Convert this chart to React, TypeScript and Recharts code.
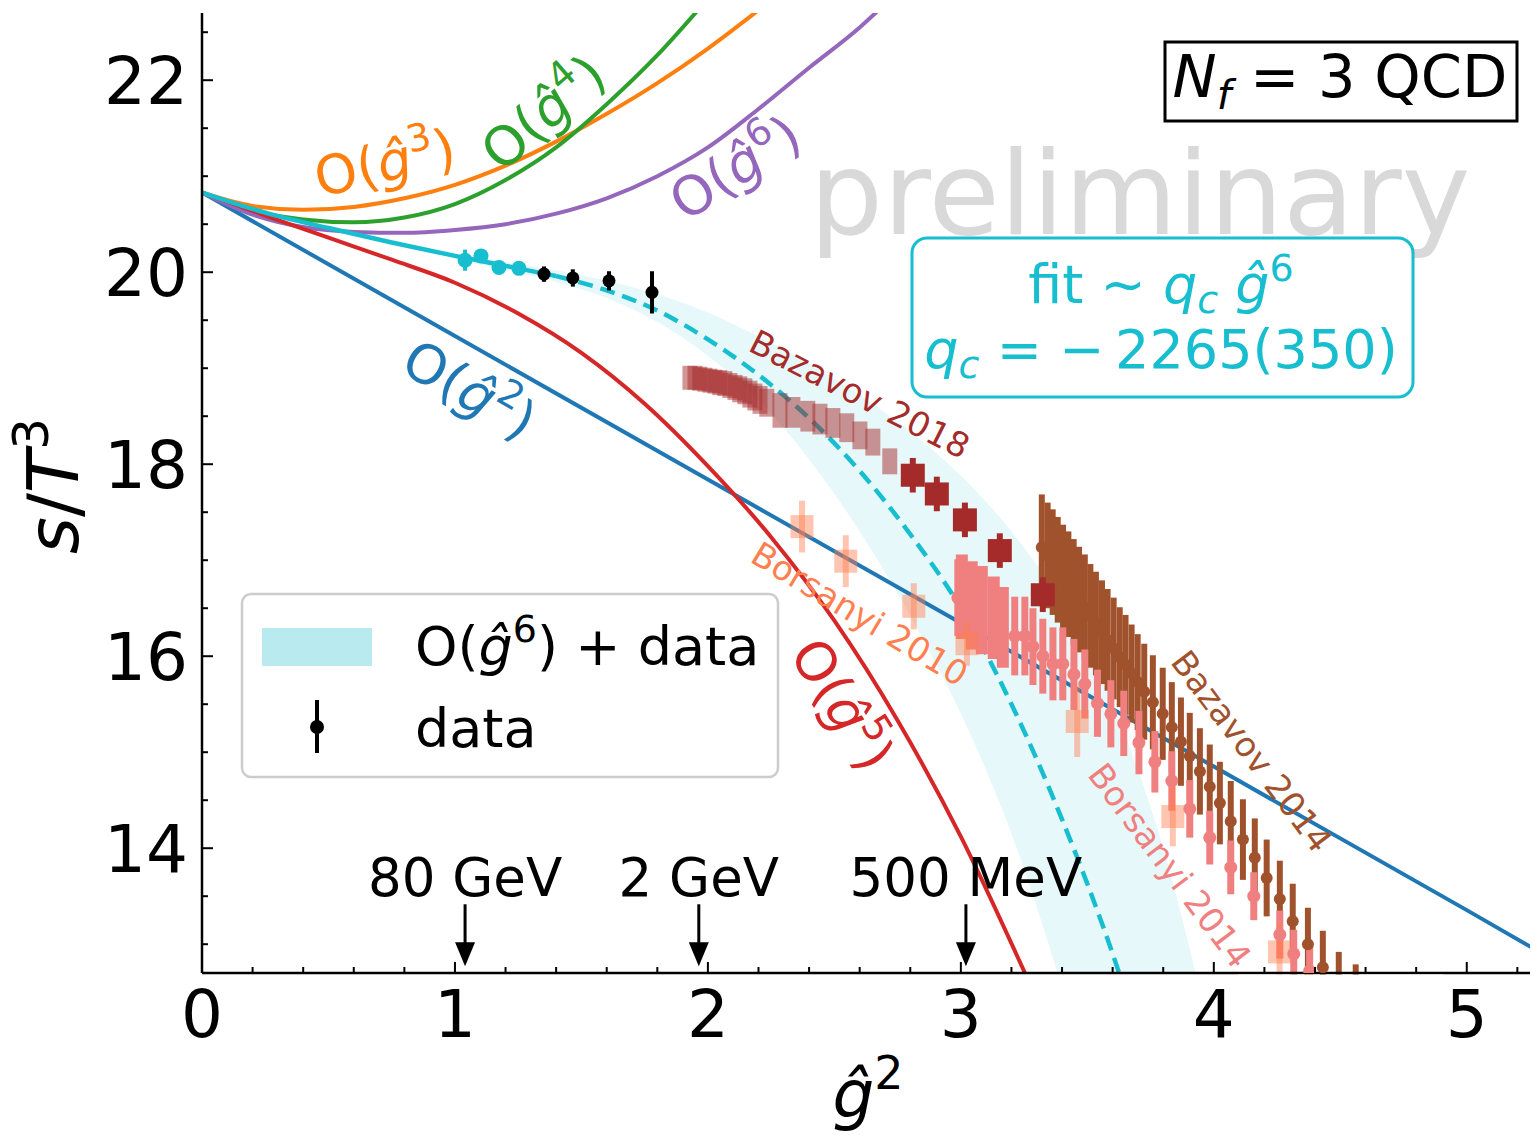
import React from 'react';
import { ComposedChart, Line, Area, Scatter, XAxis, YAxis, ErrorBar, ReferenceDot } from 'recharts';

const FONT = '"DejaVu Sans", "Noto Sans", sans-serif';
const COL = {
  blue: '#1f77b4', orange: '#ff7f0e', green: '#2ca02c', red: '#d62728', purple: '#9467bd', cyan: '#17becf',
  baz18: '#a52a2a', bors10: '#ff7f50', baz14: '#a0522d', bors14: '#f08080',
};

// ---------- ticks ----------
const xTicks = [0, 0.2, 0.4, 0.6, 0.8, 1, 1.2, 1.4, 1.6, 1.8, 2, 2.2, 2.4, 2.6, 2.8, 3, 3.2, 3.4, 3.6, 3.8, 4, 4.2, 4.4, 4.6, 4.8, 5, 5.2];
const yTicks = [13, 13.5, 14, 14.5, 15, 15.5, 16, 16.5, 17, 17.5, 18, 18.5, 19, 19.5, 20, 20.5, 21, 21.5, 22, 22.5];
const xMajor = [0, 1, 2, 3, 4, 5];
const yMajor = [14, 16, 18, 20, 22];

// ---------- perturbative curves ----------
const curveX = [0, 0.2, 0.4, 0.6, 0.8, 1, 1.2, 1.4, 1.6, 1.8, 2, 2.2, 2.4, 2.6, 2.8];
const orangeY = [20.83, 20.69, 20.65, 20.68, 20.77, 20.91, 21.11, 21.36, 21.65, 21.97, 22.33, 22.73];
const greenY = [20.83, 20.64, 20.55, 20.52, 20.57, 20.71, 20.96, 21.3, 21.75, 22.26, 22.85];
const purpleY = [20.83, 20.60, 20.47, 20.42, 20.41, 20.44, 20.50, 20.61, 20.77, 21.0, 21.3, 21.7, 22.13, 22.55, 23.05];

const blueX = [0, 1, 2, 3, 4, 5, 5.3];
const blueY = [20.83, 19.335, 17.84, 16.345, 14.85, 13.355, 12.9];

const redX = [0, 0.25, 0.5, 0.75, 1, 1.25, 1.5, 1.75, 2, 2.25, 2.5, 2.75, 3, 3.25, 3.4];
const redY = [20.83, 20.59, 20.36, 20.13, 19.89, 19.57, 19.16, 18.63, 17.98, 17.24, 16.37, 15.33, 14.12, 12.72, 11.85];

const cyanSolidX = [0, 0.25, 0.5, 0.75, 1, 1.25, 1.4];
const cyanSolidY = [20.83, 20.62, 20.46, 20.31, 20.17, 20.04, 19.96];
const cyanDashX = [1.4, 1.6, 1.8, 2, 2.2, 2.4, 2.6, 2.8, 3, 3.2, 3.4, 3.6, 3.7];
const cyanDashY = [19.96, 19.81, 19.6, 19.3, 18.93, 18.48, 17.93, 17.27, 16.5, 15.5, 14.3, 12.9, 12.1];

const bandX = [1, 1.2, 1.4, 1.6, 1.8, 2, 2.2, 2.4, 2.6, 2.8, 3, 3.2, 3.4, 3.6, 3.8, 4];
const bandLo = [20.14, 20.02, 19.9, 19.73, 19.48, 19.13, 18.67, 18.05, 17.3, 16.42, 15.4, 14.15, 12.55, 10.7, 8.6, 6.3];
const bandHi = [20.19, 20.11, 20.02, 19.91, 19.77, 19.58, 19.33, 19.05, 18.72, 18.34, 17.88, 17.3, 16.55, 15.5, 14.0, 11.9];

// ---------- lattice data: [x, y, err] ----------
const cyanData = [[1.04, 20.125, 0.11], [1.103, 20.17, 0.06], [1.174, 20.05, 0.03], [1.253, 20.04, 0.04]];
const blackData = [[1.352, 19.98, 0.08], [1.466, 19.94, 0.09], [1.609, 19.91, 0.1], [1.779, 19.79, 0.22]];

const baz18Faded = [
  [1.929, 18.90, 0.125], [1.949, 18.90, 0.125], [1.968, 18.89, 0.125], [1.988, 18.88, 0.125], [2.008, 18.87, 0.125],
  [2.028, 18.86, 0.125], [2.047, 18.85, 0.13], [2.067, 18.84, 0.13], [2.087, 18.82, 0.13], [2.107, 18.80, 0.13],
  [2.126, 18.78, 0.135], [2.146, 18.76, 0.135], [2.166, 18.73, 0.14], [2.186, 18.70, 0.14], [2.206, 18.67, 0.145],
  [2.233, 18.64, 0.145], [2.285, 18.56, 0.18], [2.336, 18.54, 0.16], [2.395, 18.50, 0.16], [2.443, 18.47, 0.16],
  [2.494, 18.43, 0.155], [2.549, 18.38, 0.15], [2.601, 18.30, 0.145], [2.652, 18.23, 0.14], [2.719, 18.03, 0.135],
];
// [x, y, boxHalf, errHalf]
const baz18Solid = [[2.81, 17.885, 0.12, 0.18], [2.905, 17.69, 0.12, 0.18], [3.016, 17.42, 0.12, 0.18], [3.154, 17.10, 0.12, 0.18], [3.324, 16.64, 0.12, 0.18]];
const bors10 = [[2.372, 17.35, 0.12, 0.27], [2.545, 16.99, 0.12, 0.27], [2.814, 16.52, 0.12, 0.24], [3.024, 16.13, 0.12, 0.23], [3.46, 15.32, 0.12, 0.37], [3.838, 14.33, 0.12, 0.31], [4.26, 12.92, 0.12, 0.3]];
const bors14Wide = [[3.004, 16.62, 0.44], [3.043, 16.53, 0.46], [3.083, 16.48, 0.46], [3.13, 16.40, 0.43], [3.166, 16.30, 0.42]];
const bors14 = [
  [2.988, 16.61, 0.4], [3.213, 16.21, 0.41], [3.253, 16.21, 0.41], [3.285, 16.10, 0.40], [3.324, 16.0, 0.39], [3.364, 15.92, 0.38],
  [3.403, 15.92, 0.38], [3.447, 15.81, 0.37], [3.49, 15.71, 0.36], [3.54, 15.51, 0.35], [3.593, 15.40, 0.35],
  [3.644, 15.30, 0.34], [3.704, 15.10, 0.33], [3.767, 14.90, 0.32], [3.834, 14.70, 0.31], [3.905, 14.41, 0.30],
  [3.984, 14.11, 0.28], [4.067, 13.80, 0.28], [4.158, 13.50, 0.25], [4.261, 13.10, 0.25], [4.316, 12.90, 0.25], [4.379, 12.72, 0.25],
];
const baz14 = [
  [3.320, 17.135, 0.55], [3.343, 17.05, 0.55], [3.363, 16.98, 0.55], [3.383, 16.90, 0.55], [3.404, 16.82, 0.55],
  [3.425, 16.75, 0.55], [3.446, 16.67, 0.55], [3.467, 16.59, 0.55], [3.490, 16.51, 0.55], [3.512, 16.42, 0.54],
  [3.534, 16.34, 0.54], [3.558, 16.25, 0.54], [3.580, 16.17, 0.53], [3.604, 16.08, 0.53], [3.628, 15.99, 0.52],
  [3.651, 15.91, 0.52], [3.675, 15.82, 0.51], [3.699, 15.73, 0.5], [3.725, 15.63, 0.5], [3.759, 15.52, 0.49],
  [3.798, 15.40, 0.48], [3.834, 15.26, 0.47], [3.870, 15.11, 0.46], [3.905, 14.96, 0.45], [3.945, 14.80, 0.45],
  [3.984, 14.64, 0.44], [4.024, 14.47, 0.43], [4.067, 14.28, 0.42], [4.115, 14.09, 0.42], [4.162, 13.90, 0.41],
  [4.209, 13.69, 0.40], [4.261, 13.47, 0.40], [4.312, 13.24, 0.39], [4.372, 13.0, 0.38], [4.431, 12.76, 0.38],
  [4.494, 12.55, 0.37], [4.561, 12.42, 0.37],
];

// ---------- annotations ----------
const arrowMarks = [
  { x: 1.04, y: 12.77, label: '80 GeV' },
  { x: 1.964, y: 12.77, label: '2 GeV' },
  { x: 3.02, y: 12.77, label: '500 MeV' },
];
const orderLabels = [
  { x: 0.723, y: 21.146, power: '3', angle: -13, color: COL.orange },
  { x: 1.348, y: 21.667, power: '4', angle: -41, color: COL.green },
  { x: 2.107, y: 21.094, power: '6', angle: -33, color: COL.purple },
  { x: 1.059, y: 18.78, power: '2', angle: 30, color: COL.blue },
  { x: 2.534, y: 15.5, power: '5', angle: 58, color: COL.red },
];
const setLabels = [
  { x: 2.60, y: 18.73, text: 'Bazavov 2018', angle: 27, color: COL.baz18 },
  { x: 2.60, y: 16.44, text: 'Borsanyi 2010', angle: 31, color: COL.bors10 },
  { x: 4.15, y: 15.01, text: 'Bazavov 2014', angle: 53, color: COL.baz14 },
  { x: 3.826, y: 13.82, text: 'Borsanyi 2014', angle: 53, color: COL.bors14 },
];

// ---------- helpers ----------
const pts = (xs: number[], ys: number[]) => ys.map((y, i) => ({ x: xs[i], y }));
const withErr = (rows: number[][]) => rows.map(([x, y, err]) => ({ x, y, err }));
const withBox = (rows: number[][]) => rows.map(([x, y, box, err]) => ({ x, y, box, err }));
const bandData = bandX.map((x, i) => ({ x, r: [bandLo[i], bandHi[i]] }));

const AX = { stroke: '#000', strokeWidth: 2.5 };
const isMajorX = (v: number) => xMajor.some((m) => Math.abs(m - v) < 1e-6);
const isMajorY = (v: number) => yMajor.some((m) => Math.abs(m - v) < 1e-6);

const BottomTick = (p: any) => {
  const v = p.payload.value;
  const M = isMajorX(v);
  return (
    <g>
      <line x1={p.x} x2={p.x} y1={p.y} y2={p.y - (M ? 11 : 6)} stroke="#000" strokeWidth={2} />
      {M ? <text x={p.x} y={p.y + 64} textAnchor="middle" fontSize={66} fontFamily={FONT} fill="#000">{v}</text> : null}
    </g>
  );
};
const TopTick = (p: any) => {
  const M = isMajorX(p.payload.value);
  return <line x1={p.x} x2={p.x} y1={p.y} y2={p.y + (M ? 11 : 6)} stroke="#000" strokeWidth={2} />;
};
const LeftTick = (p: any) => {
  const v = p.payload.value;
  const M = isMajorY(v);
  return (
    <g>
      <line x1={p.x} x2={p.x + (M ? 11 : 6)} y1={p.y} y2={p.y} stroke="#000" strokeWidth={2} />
      {M ? <text x={p.x - 14} y={p.y + 24} textAnchor="end" fontSize={66} fontFamily={FONT} fill="#000">{v}</text> : null}
    </g>
  );
};
const RightTick = (p: any) => {
  const M = isMajorY(p.payload.value);
  return <line x1={p.x} x2={p.x - (M ? 11 : 6)} y1={p.y} y2={p.y} stroke="#000" strokeWidth={2} />;
};

const Dot = (r: number, fill: string) => (p: any) => <circle cx={p.cx} cy={p.cy} r={r} fill={fill} />;
const NoMark = () => <g />;

const OrderText = ({ cx, cy, power, angle, color }: any) => {
  const fs = 54;
  return (
    <text x={cx} y={cy + fs * 0.36} transform={`rotate(${angle} ${cx} ${cy})`} textAnchor="middle" fontSize={fs} fontFamily={FONT} fill={color}>
      <tspan>O(</tspan>
      <tspan fontStyle="italic">ĝ</tspan>
      <tspan dy={-fs * 0.42} fontSize={fs * 0.7}>{power}</tspan>
      <tspan dy={fs * 0.42}>)</tspan>
    </text>
  );
};
const SetText = ({ cx, cy, text, angle, color }: any) => (
  <text x={cx} y={cy + 12} transform={`rotate(${angle} ${cx} ${cy})`} textAnchor="middle" fontSize={34} fontFamily={FONT} fill={color}>{text}</text>
);
const ArrowMark = ({ cx, cy, label }: any) => (
  <g>
    <text x={cx} y={cy - 70} textAnchor="middle" fontSize={53} fontFamily={FONT} fill="#000">{label}</text>
    <line x1={cx} x2={cx} y1={cy - 62} y2={cy - 22} stroke="#000" strokeWidth={3} />
    <polygon points={`${cx - 10},${cy - 24} ${cx + 10},${cy - 24} ${cx},${cy}`} fill="#000" />
  </g>
);

const NA = false;

export default function App() {
  return (
    <div style={{ position: 'absolute', left: 0, top: 0, width: 1532, height: 1139, background: '#fff' }}>
      <ComposedChart width={1532} height={1139} margin={{ top: 13, right: 2, bottom: 0, left: 0 }}>
        <XAxis dataKey="x" type="number" domain={[0, 5.25]} allowDataOverflow ticks={xTicks} interval={0} tick={BottomTick} tickLine={false} tickSize={0} tickMargin={0} height={166} axisLine={AX} />
        <XAxis xAxisId="top" orientation="top" dataKey="x" type="number" domain={[0, 5.25]} allowDataOverflow ticks={xTicks} interval={0} tick={TopTick} tickLine={false} tickSize={0} tickMargin={0} height={0} axisLine={AX} />
        <YAxis type="number" domain={[12.7, 22.7]} allowDataOverflow ticks={yTicks} interval={0} tick={LeftTick} tickLine={false} tickSize={0} tickMargin={0} width={202} axisLine={AX} />
        <YAxis yAxisId="right" orientation="right" type="number" domain={[12.7, 22.7]} allowDataOverflow ticks={yTicks} interval={0} tick={RightTick} tickLine={false} tickSize={0} tickMargin={0} width={0} axisLine={AX} />

        <Area data={bandData} dataKey="r" type="monotone" stroke="none" fill={COL.cyan} fillOpacity={0.1} isAnimationActive={NA} />

        <Line data={pts(blueX, blueY)} dataKey="y" type="linear" stroke={COL.blue} strokeWidth={4} dot={false} isAnimationActive={NA} />
        <Line data={pts(curveX, orangeY)} dataKey="y" type="monotone" stroke={COL.orange} strokeWidth={4} dot={false} isAnimationActive={NA} />
        <Line data={pts(curveX, greenY)} dataKey="y" type="monotone" stroke={COL.green} strokeWidth={4} dot={false} isAnimationActive={NA} />
        <Line data={pts(curveX, purpleY)} dataKey="y" type="monotone" stroke={COL.purple} strokeWidth={4} dot={false} isAnimationActive={NA} />
        <Line data={pts(redX, redY)} dataKey="y" type="monotone" stroke={COL.red} strokeWidth={4} dot={false} isAnimationActive={NA} />
        <Line data={pts(cyanSolidX, cyanSolidY)} dataKey="y" type="monotone" stroke={COL.cyan} strokeWidth={4.5} dot={false} isAnimationActive={NA} />
        <Line data={pts(cyanDashX, cyanDashY)} dataKey="y" type="monotone" stroke={COL.cyan} strokeWidth={4.5} strokeDasharray="15 8" dot={false} isAnimationActive={NA} />

        <Scatter data={withErr(baz14)} dataKey="y" shape={Dot(6, COL.baz14)} isAnimationActive={NA}>
          <ErrorBar dataKey="err" direction="y" width={0} stroke={COL.baz14} strokeWidth={6} isAnimationActive={NA} />
        </Scatter>
        <Scatter data={withErr(bors14Wide)} dataKey="y" shape={NoMark} isAnimationActive={NA}>
          <ErrorBar dataKey="err" direction="y" width={0} stroke={COL.bors14} strokeWidth={12} isAnimationActive={NA} />
        </Scatter>
        <Scatter data={withErr(bors14)} dataKey="y" shape={Dot(6.5, COL.bors14)} isAnimationActive={NA}>
          <ErrorBar dataKey="err" direction="y" width={0} stroke={COL.bors14} strokeWidth={7} isAnimationActive={NA} />
        </Scatter>
        <Scatter data={withBox(bors10)} dataKey="y" shape={NoMark} isAnimationActive={NA}>
          <ErrorBar dataKey="box" direction="y" width={0} stroke="rgba(255,127,80,0.45)" strokeWidth={23} isAnimationActive={NA} />
          <ErrorBar dataKey="err" direction="y" width={0} stroke="rgba(255,127,80,0.45)" strokeWidth={6} isAnimationActive={NA} />
        </Scatter>
        <Scatter data={withErr(baz18Faded)} dataKey="y" shape={NoMark} isAnimationActive={NA}>
          <ErrorBar dataKey="err" direction="y" width={0} stroke="rgba(165,42,42,0.5)" strokeWidth={15} isAnimationActive={NA} />
        </Scatter>
        <Scatter data={withBox(baz18Solid)} dataKey="y" shape={NoMark} isAnimationActive={NA}>
          <ErrorBar dataKey="box" direction="y" width={0} stroke={COL.baz18} strokeWidth={24} isAnimationActive={NA} />
          <ErrorBar dataKey="err" direction="y" width={0} stroke={COL.baz18} strokeWidth={6} isAnimationActive={NA} />
        </Scatter>
        <Scatter data={withErr(cyanData)} dataKey="y" shape={Dot(7.5, COL.cyan)} isAnimationActive={NA}>
          <ErrorBar dataKey="err" direction="y" width={0} stroke={COL.cyan} strokeWidth={4} isAnimationActive={NA} />
        </Scatter>
        <Scatter data={withErr(blackData)} dataKey="y" shape={Dot(6.5, '#000')} isAnimationActive={NA}>
          <ErrorBar dataKey="err" direction="y" width={0} stroke="#000" strokeWidth={4} isAnimationActive={NA} />
        </Scatter>

        {orderLabels.map((l, i) => (
          <ReferenceDot key={'o' + i} x={l.x} y={l.y} ifOverflow="visible" shape={(p: any) => <OrderText cx={p.cx} cy={p.cy} power={l.power} angle={l.angle} color={l.color} />} />
        ))}
        {setLabels.map((l, i) => (
          <ReferenceDot key={'s' + i} x={l.x} y={l.y} ifOverflow="visible" shape={(p: any) => <SetText cx={p.cx} cy={p.cy} text={l.text} angle={l.angle} color={l.color} />} />
        ))}
        {arrowMarks.map((a, i) => (
          <ReferenceDot key={'a' + i} x={a.x} y={a.y} ifOverflow="visible" shape={(p: any) => <ArrowMark cx={p.cx} cy={p.cy} label={a.label} />} />
        ))}
      </ComposedChart>

      <svg width={1532} height={1139} style={{ position: 'absolute', left: 0, top: 0, pointerEvents: 'none' }} fontFamily={FONT}>
        {/* keep error bars inside the frame, as the clipped original does */}
        <rect x={1238} y={974.6} width={205} height={110} fill="#fff" />

        <text x={1140} y={234} textAnchor="middle" fontSize={116} fill="#d9d9d9">preliminary</text>

        <rect x={912} y={238} width={501} height={159} rx={15} fill="#fff" stroke={COL.cyan} strokeWidth={3} />
        <text x={1161} y={303} textAnchor="middle" fontSize={54} fill={COL.cyan}>
          <tspan>fit  ∼ </tspan>
          <tspan fontStyle="italic">q</tspan>
          <tspan fontStyle="italic" fontSize={38} dy={10}>c</tspan>
          <tspan fontStyle="italic" dy={-10}> ĝ</tspan>
          <tspan fontSize={38} dy={-22}>6</tspan>
        </text>
        <text x={1161} y={368} textAnchor="middle" fontSize={54} fill={COL.cyan}>
          <tspan fontStyle="italic">q</tspan>
          <tspan fontStyle="italic" fontSize={38} dy={10}>c</tspan>
          <tspan dy={-10}>{' = −\u20092265(350)'}</tspan>
        </text>

        <rect x={1165} y={42} width={352} height={79} fill="#fff" stroke="#000" strokeWidth={3} />
        <text x={1340} y={97} textAnchor="middle" fontSize={59} fill="#000">
          <tspan fontStyle="italic">N</tspan>
          <tspan fontStyle="italic" fontSize={41} dy={12}>f</tspan>
          <tspan dy={-12}> = 3 QCD</tspan>
        </text>

        <rect x={242} y={594} width={536} height={183} rx={9} fill="#fff" fillOpacity={0.8} stroke="#cccccc" strokeWidth={2.5} />
        <rect x={262} y={628} width={110} height={38} fill="#b9eaf0" />
        <text x={415} y={665} fontSize={54} fill="#000">
          <tspan>O(</tspan>
          <tspan fontStyle="italic">ĝ</tspan>
          <tspan dy={-23} fontSize={38}>6</tspan>
          <tspan dy={23}>) + data</tspan>
        </text>
        <line x1={317} x2={317} y1={700} y2={753} stroke="#000" strokeWidth={4} />
        <circle cx={317} cy={727} r={7} fill="#000" />
        <text x={415} y={747} fontSize={54} fill="#000">data</text>

        <text x={868} y={1117} textAnchor="middle" fontSize={66} fill="#000">
          <tspan fontStyle="italic">ĝ</tspan>
          <tspan dy={-28} fontSize={46}>2</tspan>
        </text>
        <text x={78} y={486} transform="rotate(-90 78 486)" textAnchor="middle" fontSize={71} fill="#000">
          <tspan fontStyle="italic">s</tspan>
          <tspan>/</tspan>
          <tspan fontStyle="italic">T</tspan>
          <tspan dy={-30} fontSize={50}>3</tspan>
        </text>
      </svg>
    </div>
  );
}
